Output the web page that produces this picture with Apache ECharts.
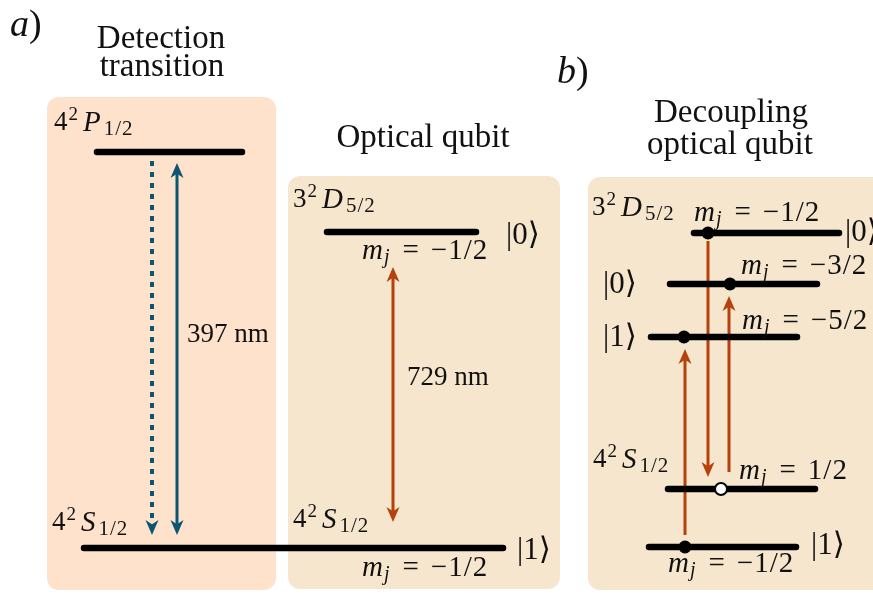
<!DOCTYPE html>
<html><head><meta charset="utf-8">
<script src="https://cdn.jsdelivr.net/npm/echarts@6.0.0/dist/echarts.min.js"></script>
<style>html,body{margin:0;padding:0;background:#fff}#c{width:873px;height:595px}</style>
</head><body><div id="c"></div>
<script>
// ---- data (diagram units = axis units) ----
// panel boxes: [x1, y1, x2, y2]
const boxRects = [[47, 97, 276, 590], [288, 176, 560, 589], [588, 177, 900, 590]];
const boxKinds = ['peach', 'tan', 'tan'];
// energy levels: [x1, x2, y]
const levels = [
  [97, 242, 152],   // 4P1/2
  [84, 503, 548],   // 4S1/2 (shared)
  [327, 476, 232],  // 3D5/2 (optical qubit)
  [694, 839, 233],  // D mj=-1/2
  [670, 817, 284],  // D mj=-3/2
  [651, 797, 337],  // D mj=-5/2
  [668, 815, 489],  // S mj=+1/2
  [649, 796, 547]   // S mj=-1/2
];
// arrows: [x, yStart, yEnd, bothHeads, dashed]
const arrowGeom = [
  [177, 535, 163, 1, 0],
  [152, 161, 535, 0, 1],
  [393, 522, 267, 1, 0],
  [685, 535, 349, 0, 0],
  [708, 241, 477, 0, 0],
  [729, 472, 296, 0, 0]
];
const arrowKinds = ['teal', 'teal', 'orange', 'orange', 'orange', 'orange'];
// sublevel markers
const filledDots = [[708, 233], [730, 284], [684, 337], [685, 547]];
const openDots = [[721, 489]];

// text helpers
const lbl = (n, L, s) => '{n|' + n + '}{sp|2}{i|' + L + '}{sb|' + s[0] + '}{ss|/}{sb|' + s[2] + '}';
const mj = (v) => '{mi|m}{mj|j}{eq|=}' + (v[0] === '−' ? '{mm|−}' + v.slice(1) : v).replace(/(\d)\/(\d)/, '{mn|$1}{sl|/}{mn|$2}');
const ket = (d) => '{k||' + d + '⟩}';
// texts: [x, y, content, align]
const textItems = [
  [10, 26, '{pi|a}{pn|)}', 'left'],
  [161, 39, '{t|Detection}', 'center'],
  [162, 67, '{t|transition}', 'center'],
  [423, 138, '{t|Optical qubit}', 'center'],
  [557, 73, '{pi|b}{pn|)}', 'left'],
  [731, 113, '{t|Decoupling}', 'center'],
  [730, 145, '{t|optical qubit}', 'center'],
  [54, 123, lbl('4', 'P', '1/2'), 'left'],
  [187, 335, '{n|397 nm}', 'left'],
  [52, 523, lbl('4', 'S', '1/2'), 'left'],
  [293, 200, lbl('3', 'D', '5/2'), 'left'],
  [506, 236, ket('0'), 'left'],
  [362, 251, mj('−1/2'), 'left'],
  [407, 378, '{n|729 nm}', 'left'],
  [293, 520, lbl('4', 'S', '1/2'), 'left'],
  [517, 551, ket('1'), 'left'],
  [362, 568, mj('−1/2'), 'left'],
  [592, 208, lbl('3', 'D', '5/2'), 'left'],
  [694, 213, mj('−1/2'), 'left'],
  [845, 233, ket('0'), 'left'],
  [603, 285, ket('0'), 'left'],
  [741, 266, mj('−3/2'), 'left'],
  [603, 338, ket('1'), 'left'],
  [742, 321, mj('−5/2'), 'left'],
  [593, 460, lbl('4', 'S', '1/2'), 'left'],
  [739, 471, mj('1/2'), 'left'],
  [811, 546, ket('1'), 'left'],
  [668, 564, mj('−1/2'), 'left']
];

// ---- styles ----
const palette = { peach: '#FFE2CC', tan: '#F6E6CD', teal: '#0B5670', orange: '#B5410B' };
const F = "'Liberation Serif', 'DejaVu Serif', serif";
const C = '#111';
const rich = {
  n:  { fontSize: 27, fontFamily: F, lineHeight: 34, verticalAlign: 'middle', fill: C },
  i:  { fontSize: 29, fontFamily: F, fontStyle: 'italic', lineHeight: 34, verticalAlign: 'middle', fill: C, padding: [0, 3, 0, 5] },
  sp: { fontSize: 19, fontFamily: F, lineHeight: 19, verticalAlign: 'top', fill: C, padding: [0, 0, 0, 1] },
  sb: { fontSize: 21, fontFamily: F, lineHeight: 21, verticalAlign: 'bottom', fill: C },
  ss: { fontSize: 21, fontFamily: F, lineHeight: 21, verticalAlign: 'bottom', fill: C, padding: [0, 1, 0, 1] },
  mi: { fontSize: 29, fontFamily: F, fontStyle: 'italic', lineHeight: 34, verticalAlign: 'middle', fill: C },
  mj: { fontSize: 20, fontFamily: F, fontStyle: 'italic', lineHeight: 20, verticalAlign: 'bottom', fill: C, padding: [0, 0, 0, 1] },
  eq: { fontSize: 29, fontFamily: F, lineHeight: 34, verticalAlign: 'middle', fill: C, padding: [0, 12, 0, 13] },
  mm: { fontSize: 29, fontFamily: F, lineHeight: 34, verticalAlign: 'middle', fill: C, padding: [0, 1, 0, 0] },
  mn: { fontSize: 29, fontFamily: F, lineHeight: 34, verticalAlign: 'middle', fill: C },
  sl: { fontSize: 29, fontFamily: F, lineHeight: 34, verticalAlign: 'middle', fill: C, padding: [0, 1, 0, 1] },
  k:  { fontSize: 31, fontFamily: F, lineHeight: 36, verticalAlign: 'middle', fill: C },
  t:  { fontSize: 33, fontFamily: F, lineHeight: 38, verticalAlign: 'middle', fill: C },
  pi: { fontSize: 38, fontFamily: F, fontStyle: 'italic', lineHeight: 44, verticalAlign: 'middle', fill: C },
  pn: { fontSize: 38, fontFamily: F, lineHeight: 44, verticalAlign: 'middle', fill: C }
};

function head(x, y, dir, col) {
  const L = 15, W = 13, N = 0.72;
  return { type: 'polygon', shape: { points: [[x, y], [x - W / 2, y - dir * L], [x, y - dir * L * N], [x + W / 2, y - dir * L]] },
    style: { fill: col } };
}

const chart = echarts.init(document.getElementById('c'), null, { renderer: 'canvas' });
chart.setOption({
  animation: false,
  grid: { left: 0, right: 0, top: 0, bottom: 0 },
  xAxis: { type: 'value', min: 0, max: 873, show: false },
  yAxis: { type: 'value', min: 0, max: 595, inverse: true, show: false },
  series: [
    { type: 'custom', z: 1, silent: true, data: boxRects,
      renderItem(params, api) {
        const b = boxRects[params.dataIndex];
        const p1 = api.coord([b[0], b[1]]), p2 = api.coord([b[2], b[3]]);
        return { type: 'rect', shape: { x: p1[0], y: p1[1], width: p2[0] - p1[0], height: p2[1] - p1[1], r: 12 },
          style: { fill: palette[boxKinds[params.dataIndex]] } };
      } },
    { type: 'custom', z: 2, silent: true, data: arrowGeom.map(a => [a[0], a[1]]),
      renderItem(params, api) {
        const g = arrowGeom[params.dataIndex];
        const col = palette[arrowKinds[params.dataIndex]];
        const p0 = api.coord([g[0], g[1]]), p1 = api.coord([g[0], g[2]]);
        const d = p1[1] > p0[1] ? 1 : -1;
        const children = [head(p1[0], p1[1], d, col)];
        let ys = p0[1];
        const ye = p1[1] - d * 15 * 0.72;
        if (g[3]) { children.push(head(p0[0], p0[1], -d, col)); ys = p0[1] + d * 15 * 0.72; }
        children.push({ type: 'line', shape: { x1: p0[0], y1: ys, x2: p0[0], y2: ye },
          style: { stroke: col, lineWidth: g[4] ? 4 : 3, lineDash: g[4] ? [5, 6] : null } });
        return { type: 'group', children };
      } },
    { type: 'custom', z: 3, silent: true, data: levels.map(l => [l[0], l[2]]),
      renderItem(params, api) {
        const l = levels[params.dataIndex];
        const p1 = api.coord([l[0], l[2]]), p2 = api.coord([l[1], l[2]]);
        return { type: 'line', shape: { x1: p1[0], y1: p1[1], x2: p2[0], y2: p2[1] },
          style: { stroke: '#000', lineWidth: 6.5, lineCap: 'round' } };
      } },
    { type: 'scatter', z: 4, silent: true, data: filledDots, symbolSize: 13,
      itemStyle: { color: '#000', opacity: 1 } },
    { type: 'scatter', z: 4, silent: true, data: openDots, symbolSize: 12,
      itemStyle: { color: '#fff', borderColor: '#000', borderWidth: 2, opacity: 1 } },
    { type: 'custom', z: 5, silent: true, data: textItems.map(t => [t[0], t[1]]),
      renderItem(params, api) {
        const t = textItems[params.dataIndex];
        const p = api.coord([t[0], t[1]]);
        return { type: 'text', x: p[0], y: p[1],
          style: { text: t[2], rich, textAlign: t[3], textVerticalAlign: 'middle', fill: C, fontFamily: F, fontSize: 27 } };
      } }
  ]
});
</script></body></html>
